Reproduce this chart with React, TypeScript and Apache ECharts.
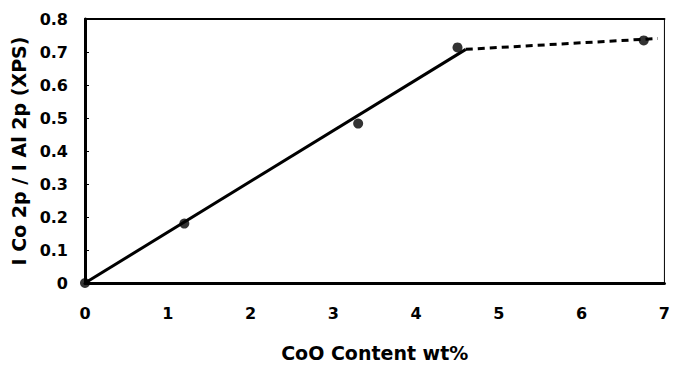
import React, { useEffect, useRef } from "react";
import * as echarts from "echarts";

const coContent = [0, 1.2, 3.3, 4.5, 6.75];
const intensityRatio = [0, 0.18, 0.483, 0.714, 0.735];
const solidFit = [
  [0, 0],
  [4.6, 0.708],
];
const dashedFit = [
  [4.6, 0.708],
  [6.92, 0.741],
];
const xTicks = [0, 1, 2, 3, 4, 5, 6, 7];

const FONT = "DejaVu Sans";

export default function App() {
  const ref = useRef<HTMLDivElement>(null);
  useEffect(() => {
    if (!ref.current) return;
    const chart = echarts.init(ref.current, undefined, { renderer: "svg" });
    const labelStyle = {
      color: "#000",
      fontFamily: FONT,
      fontWeight: "bold" as const,
      fontSize: 16,
    };
    const nameStyle = { ...labelStyle, fontSize: 19 };
    chart.setOption({
      animation: false,
      backgroundColor: "#fff",
      grid: {
        left: 85,
        right: 2,
        top: 19,
        bottom: 78,
        show: true,
        borderColor: "#000",
        borderWidth: 1,
      },
      xAxis: [
        {
          type: "value",
          min: xTicks[0],
          max: xTicks[xTicks.length - 1],
          interval: 1,
          name: "CoO Content wt%",
          nameLocation: "middle",
          nameGap: 60,
          nameTextStyle: { ...nameStyle, verticalAlign: "top" },
          axisLine: { show: true, lineStyle: { color: "#000", width: 3 } },
          axisTick: { show: false },
          splitLine: { show: false },
          axisLabel: { ...labelStyle, margin: 22 },
        },
        {
          type: "value",
          position: "top",
          min: 0,
          max: 7,
          interval: 1,
          axisLine: { show: true, onZero: false, lineStyle: { color: "#000", width: 2 } },
          axisTick: { show: false },
          axisLabel: { show: false },
          splitLine: { show: false },
        },
      ],
      yAxis: {
        type: "value",
        min: 0,
        max: 0.8,
        interval: 0.1,
        name: "I Co 2p / I Al 2p (XPS)",
        nameLocation: "middle",
        nameGap: 54,
        nameTextStyle: nameStyle,
        axisLine: { show: true, lineStyle: { color: "#000", width: 3 } },
        axisTick: { show: true, inside: true, length: 4, lineStyle: { color: "#000", width: 1 } },
        splitLine: { show: false },
        axisLabel: {
          ...labelStyle,
          margin: 17,
          formatter: (v: number) => (v === 0 ? "0" : v.toFixed(1)),
        },
      },
      series: [
        {
          type: "line",
          data: solidFit,
          symbol: "none",
          lineStyle: { color: "#000", width: 3 },
          z: 3,
        },
        {
          type: "line",
          data: dashedFit,
          symbol: "none",
          lineStyle: { color: "#000", width: 3, type: [7, 5] },
          z: 3,
        },
        {
          type: "scatter",
          data: coContent.map((x, i) => [x, intensityRatio[i]]),
          symbolSize: 10,
          itemStyle: { color: "#000" },
          clip: false,
          z: 4,
        },
      ],
    });
    return () => chart.dispose();
  }, []);
  return (
    <div
      ref={ref}
      style={{ position: "fixed", left: 0, top: 0, width: 673, height: 367 }}
    />
  );
}
